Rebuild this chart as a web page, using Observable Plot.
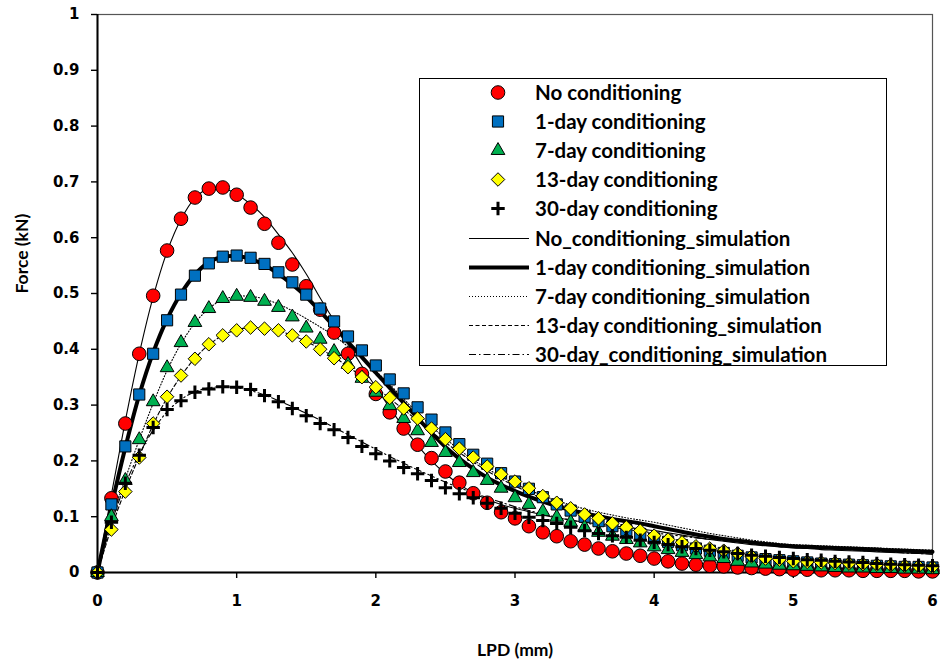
<!DOCTYPE html>
<html>
<head>
<meta charset="utf-8">
<script src="https://cdn.jsdelivr.net/npm/d3@7"></script>
<script src="https://cdn.jsdelivr.net/npm/@observablehq/plot@0.6"></script>
<style>
  html, body { margin: 0; padding: 0; background: #fff; }
  #wrap { position: relative; width: 940px; height: 665px; }
  #legend { position: absolute; left: 419px; top: 78px; width: 466px; height: 286px;
            border: 1.5px solid #000; background: #fff; box-sizing: content-box; }
  .row { position: absolute; left: 0; height: 29px; width: 100%; }
  .row svg { position: absolute; left: 40px; top: 0; }
  .row span { position: absolute; left: 115px; top: 0; line-height: 29px;
              font-family: Lato, "Open Sans", sans-serif; font-weight: bold; font-size: 20.5px; color: #000; white-space: nowrap; }
</style>
</head>
<body>
<div id="wrap"></div>
<script>
// ---- data ----
const lpd = [0,0.1,0.2,0.3,0.4,0.5,0.6,0.7,0.8,0.9,1,1.1,1.2,1.3,1.4,1.5,1.6,1.7,1.8,1.9,2,2.1,2.2,2.3,2.4,2.5,2.6,2.7,2.8,2.9,3,3.1,3.2,3.3,3.4,3.5,3.6,3.7,3.8,3.9,4,4.1,4.2,4.3,4.4,4.5,4.6,4.7,4.8,4.9,5,5.1,5.2,5.3,5.4,5.5,5.6,5.7,5.8,5.9,6];

const noCond = [0, 0.133, 0.267, 0.392, 0.496, 0.577, 0.634, 0.672, 0.688, 0.690,
 0.677, 0.654, 0.625, 0.591, 0.552, 0.513, 0.471, 0.430, 0.392, 0.356,
 0.320, 0.287, 0.258, 0.229, 0.205, 0.181, 0.161, 0.142, 0.125, 0.108,
 0.097, 0.083, 0.072, 0.065, 0.056, 0.050, 0.043, 0.038, 0.034, 0.030,
 0.025, 0.020, 0.016, 0.014, 0.012, 0.011, 0.009, 0.008, 0.007, 0.006,
 0.005, 0.005, 0.004, 0.004, 0.004, 0.003, 0.003, 0.003, 0.003, 0.002,
 0.002];
const oneDay = [0, 0.122, 0.226, 0.319, 0.392, 0.452, 0.498, 0.532, 0.554, 0.566,
 0.568, 0.564, 0.553, 0.538, 0.520, 0.498, 0.473, 0.450, 0.423, 0.398,
 0.371, 0.346, 0.321, 0.296, 0.274, 0.251, 0.230, 0.211, 0.195, 0.178,
 0.163, 0.150, 0.135, 0.122, 0.111, 0.100, 0.092, 0.083, 0.076, 0.069,
 0.061, 0.055, 0.049, 0.043, 0.039, 0.035, 0.030, 0.027, 0.024, 0.022,
 0.020, 0.018, 0.016, 0.015, 0.014, 0.013, 0.012, 0.011, 0.010, 0.010,
 0.009];
const sevenDay = [0, 0.100, 0.165, 0.238, 0.306, 0.367, 0.412, 0.448, 0.473, 0.491,
 0.495, 0.493, 0.486, 0.475, 0.458, 0.438, 0.418, 0.396, 0.373, 0.348,
 0.323, 0.299, 0.276, 0.254, 0.233, 0.215, 0.197, 0.179, 0.165, 0.151,
 0.134, 0.122, 0.109, 0.099, 0.090, 0.081, 0.072, 0.065, 0.059, 0.053,
 0.046, 0.041, 0.036, 0.032, 0.028, 0.025, 0.020, 0.017, 0.015, 0.013,
 0.012, 0.011, 0.010, 0.009, 0.008, 0.008, 0.007, 0.007, 0.006, 0.006,
 0.005];
const thirteenDay = [0, 0.077, 0.145, 0.206, 0.267, 0.315, 0.353, 0.383, 0.409, 0.425,
 0.434, 0.439, 0.437, 0.434, 0.425, 0.414, 0.400, 0.384, 0.368, 0.350,
 0.332, 0.313, 0.294, 0.276, 0.258, 0.239, 0.222, 0.206, 0.190, 0.176,
 0.163, 0.151, 0.137, 0.125, 0.115, 0.104, 0.097, 0.088, 0.081, 0.075,
 0.066, 0.059, 0.054, 0.047, 0.043, 0.039, 0.034, 0.029, 0.025, 0.023,
 0.020, 0.019, 0.018, 0.017, 0.016, 0.015, 0.014, 0.013, 0.012, 0.011,
 0.010];
const thirtyDay = [0, 0.090, 0.160, 0.210, 0.260, 0.292, 0.308, 0.323, 0.329, 0.333,
 0.332, 0.328, 0.317, 0.306, 0.294, 0.281, 0.267, 0.256, 0.242, 0.226,
 0.213, 0.200, 0.188, 0.177, 0.165, 0.152, 0.141, 0.134, 0.124, 0.115,
 0.106, 0.099, 0.093, 0.088, 0.081, 0.075, 0.070, 0.066, 0.063, 0.058,
 0.054, 0.050, 0.046, 0.043, 0.040, 0.037, 0.034, 0.031, 0.029, 0.027,
 0.025, 0.023, 0.022, 0.020, 0.019, 0.018, 0.016, 0.015, 0.014, 0.013,
 0.012];

const simNo = [0, 0.140, 0.272, 0.392, 0.494, 0.575, 0.633, 0.671, 0.688, 0.689,
 0.678, 0.660, 0.637, 0.606, 0.573, 0.535, 0.492, 0.451, 0.410, 0.370,
 0.332, 0.295, 0.260, 0.228, 0.200, 0.177, 0.158, 0.143, 0.131, 0.122,
 0.115, 0.109, 0.103, 0.098, 0.094, 0.090, 0.087, 0.084, 0.081, 0.078,
 0.075, 0.071, 0.067, 0.063, 0.059, 0.056, 0.053, 0.050, 0.048, 0.046,
 0.044, 0.043, 0.041, 0.040, 0.039, 0.038, 0.037, 0.036, 0.035, 0.034,
 0.033];
const simOne = [0, 0.118, 0.224, 0.318, 0.394, 0.454, 0.500, 0.534, 0.556, 0.566,
 0.567, 0.562, 0.551, 0.535, 0.516, 0.494, 0.468, 0.441, 0.413, 0.386,
 0.358, 0.331, 0.304, 0.277, 0.250, 0.225, 0.204, 0.186, 0.170, 0.157,
 0.146, 0.136, 0.127, 0.119, 0.112, 0.106, 0.101, 0.096, 0.092, 0.088,
 0.083, 0.078, 0.073, 0.068, 0.064, 0.060, 0.057, 0.054, 0.051, 0.049,
 0.047, 0.046, 0.045, 0.044, 0.043, 0.042, 0.041, 0.040, 0.039, 0.038,
 0.037];
const simSeven = [0, 0.095, 0.168, 0.238, 0.303, 0.362, 0.410, 0.447, 0.473, 0.489,
 0.495, 0.495, 0.490, 0.481, 0.469, 0.455, 0.440, 0.424, 0.405, 0.384,
 0.361, 0.337, 0.311, 0.286, 0.262, 0.240, 0.220, 0.202, 0.186, 0.172,
 0.159, 0.148, 0.138, 0.129, 0.121, 0.114, 0.108, 0.103, 0.098, 0.094,
 0.090, 0.085, 0.080, 0.075, 0.070, 0.066, 0.062, 0.058, 0.055, 0.052,
 0.050, 0.049, 0.048, 0.047, 0.046, 0.045, 0.044, 0.043, 0.042, 0.041,
 0.040];
const simThirteen = [0, 0.080, 0.148, 0.208, 0.265, 0.313, 0.352, 0.384, 0.408, 0.425,
 0.435, 0.439, 0.438, 0.433, 0.425, 0.414, 0.401, 0.386, 0.369, 0.351,
 0.332, 0.312, 0.292, 0.272, 0.252, 0.233, 0.215, 0.198, 0.182, 0.168,
 0.155, 0.143, 0.132, 0.123, 0.115, 0.107, 0.101, 0.095, 0.090, 0.086,
 0.082, 0.077, 0.073, 0.069, 0.065, 0.061, 0.058, 0.055, 0.052, 0.050,
 0.048, 0.046, 0.045, 0.044, 0.043, 0.042, 0.041, 0.040, 0.039, 0.038,
 0.037];
const simThirty = [0, 0.088, 0.158, 0.212, 0.255, 0.288, 0.310, 0.324, 0.331, 0.333,
 0.331, 0.326, 0.318, 0.308, 0.297, 0.285, 0.273, 0.260, 0.247, 0.234,
 0.221, 0.208, 0.196, 0.184, 0.173, 0.162, 0.152, 0.143, 0.134, 0.126,
 0.118, 0.111, 0.105, 0.099, 0.094, 0.089, 0.085, 0.081, 0.077, 0.074,
 0.071, 0.068, 0.065, 0.062, 0.060, 0.057, 0.055, 0.053, 0.051, 0.049,
 0.047, 0.045, 0.044, 0.042, 0.041, 0.039, 0.038, 0.037, 0.035, 0.034,
 0.033];

const xTicks = [0, 1, 2, 3, 4, 5, 6];
const xTickLabels = ["0", "1", "2", "3", "4", "5", "6"];
const yTicks = [0, 0.1, 0.2, 0.3, 0.4, 0.5, 0.6, 0.7, 0.8, 0.9, 1];
const yTickLabels = ["0", "0.1", "0.2", "0.3", "0.4", "0.5", "0.6", "0.7", "0.8", "0.9", "1"];
const xTitle = "LPD (mm)";
const yTitle = "Force (kN)";

const measuredNames = ["No conditioning", "1-day conditioning", "7-day conditioning", "13-day conditioning", "30-day conditioning"];
const simNames = ["No_conditioning_simulation", "1-day conditioning_simulation", "7-day conditioning_simulation", "13-day conditioning_simulation", "30-day_conditioning_simulation"];

// ---- styles ----
const measured = [
  {vals: noCond, symbol: "circle", r: 6.8, fill: "#FF0000", stroke: "#000", sw: 1},
  {vals: oneDay, symbol: "square", r: 6.3, fill: "#0070C0", stroke: "#000", sw: 1},
  {vals: sevenDay, symbol: "triangle", r: 5.1, fill: "#00B050", stroke: "#000", sw: 1},
  {vals: thirteenDay, symbol: "diamond2", r: 6.1, fill: "#FFFF00", stroke: "#000", sw: 1},
  {vals: thirtyDay, symbol: "plus", r: 4.4, fill: "none", stroke: "#000", sw: 3}
];
const sims = [
  {vals: simNo, sw: 1.1, dash: null},
  {vals: simOne, sw: 4, dash: null},
  {vals: simSeven, sw: 1.1, dash: "1,2"},
  {vals: simThirteen, sw: 1.1, dash: "4,2.5"},
  {vals: simThirty, sw: 1.1, dash: "7,3,1.5,3"}
];

const rows = vals => lpd.map((x, i) => ({x, y: vals[i]}));

const marks = [
  Plot.frame({stroke: "#555", strokeWidth: 1.2}),
  Plot.ruleX([0], {stroke: "#000", strokeWidth: 2}),
  Plot.ruleY([0], {stroke: "#000", strokeWidth: 2}),
  Plot.axisX({ticks: xTicks, tickFormat: (d, i) => xTickLabels[i], tickSize: 6, tickPadding: 17,
              label: null, fontSize: 15, fontWeight: "bold", fontFamily: "DejaVu Sans", strokeWidth: 1.4}),
  Plot.axisY({ticks: yTicks, tickFormat: (d, i) => yTickLabels[i], tickSize: 6, tickPadding: 12,
              label: null, fontSize: 15, fontWeight: "bold", fontFamily: "DejaVu Sans", strokeWidth: 1.4}),
  Plot.text([xTitle], {frameAnchor: "bottom", dy: 83, fontSize: 17.5, fontWeight: "bold", fontFamily: "Lato"}),
  Plot.text([yTitle], {frameAnchor: "left", dx: -75, rotate: -90, fontSize: 17.5, fontWeight: "bold", fontFamily: "Lato"})
];
for (const s of sims) {
  marks.push(Plot.line(rows(s.vals), {x: "x", y: "y", stroke: "#000", strokeWidth: s.sw,
    strokeDasharray: s.dash, curve: "catmull-rom"}));
}
for (const m of measured) {
  marks.push(Plot.dot(rows(m.vals), {x: "x", y: "y", symbol: m.symbol, r: m.r, fill: m.fill,
    stroke: m.stroke, strokeWidth: m.sw}));
}

const chart = Plot.plot({
  width: 940, height: 665,
  marginLeft: 97, marginRight: 8, marginTop: 14, marginBottom: 93,
  x: {domain: [0, 6]},
  y: {domain: [0, 1]},
  style: {background: "#fff", color: "#000"},
  marks
});
const wrap = document.getElementById("wrap");
wrap.appendChild(chart);

// ---- legend ----
const legend = document.createElement("div");
legend.id = "legend";
wrap.appendChild(legend);
const symGen = {circle: d3.symbolCircle, square: d3.symbolSquare, triangle: d3.symbolTriangle, diamond2: d3.symbolDiamond2, plus: d3.symbolPlus};
const addRow = (i, name, draw) => {
  const row = document.createElement("div");
  row.className = "row";
  row.style.top = (-1 + i * 29.1) + "px";
  const svg = d3.select(row).append("svg").attr("width", 70).attr("height", 29);
  draw(svg);
  const span = document.createElement("span");
  span.textContent = name;
  row.appendChild(span);
  legend.appendChild(row);
};
measured.forEach((m, i) => {
  addRow(i, measuredNames[i], svg => {
    svg.append("path")
      .attr("transform", "translate(38,14.5)")
      .attr("d", d3.symbol(symGen[m.symbol], Math.PI * m.r * m.r)())
      .attr("fill", m.fill).attr("stroke", m.stroke).attr("stroke-width", m.sw);
  });
});
sims.forEach((s, i) => {
  addRow(i + 5, simNames[i], svg => {
    svg.append("line").attr("x1", 9).attr("x2", 69).attr("y1", 14.5).attr("y2", 14.5)
      .attr("stroke", "#000").attr("stroke-width", s.sw)
      .attr("stroke-dasharray", s.dash);
  });
});
</script>
</body>
</html>
